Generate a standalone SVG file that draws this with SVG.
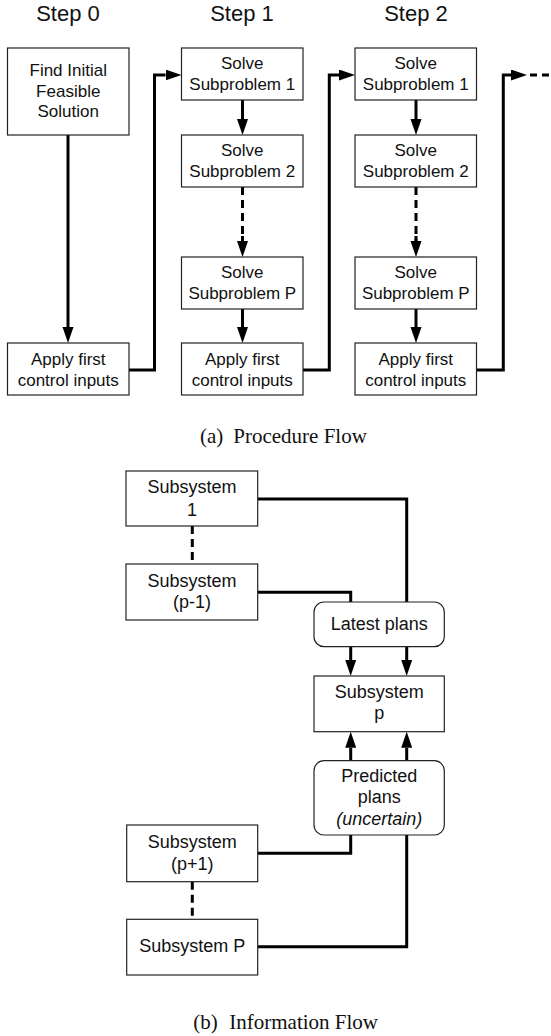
<svg xmlns="http://www.w3.org/2000/svg" width="551" height="1036" viewBox="0 0 551 1036">
<style>
.box{fill:#fff;stroke:#222;stroke-width:1.2}
.t{font-family:"Liberation Sans",Arial,sans-serif;font-size:17px;fill:#111;text-anchor:middle}
.tb{font-family:"Liberation Sans",Arial,sans-serif;font-size:18px;fill:#111;text-anchor:middle}
.step{font-family:"Liberation Sans",Arial,sans-serif;font-size:22px;fill:#111;text-anchor:middle}
.cap{font-family:"Liberation Serif","Times New Roman",serif;font-size:21px;fill:#111}
.ln{fill:none;stroke:#000;stroke-width:3}
.dash{fill:none;stroke:#000;stroke-width:3;stroke-dasharray:8,5}
</style>
<defs>
<marker id="ah" markerUnits="userSpaceOnUse" markerWidth="16" markerHeight="12" refX="0" refY="5.5" orient="auto">
<path d="M0,0 L16,5.5 L0,11 z" fill="#000"/>
</marker>
</defs>

<text class="step" x="68" y="21">Step 0</text>
<text class="step" x="242" y="21">Step 1</text>
<text class="step" x="416" y="21">Step 2</text>

<g id="connectors">
<!-- part a -->
<path class="ln" d="M68,135 V327" marker-end="url(#ah)"/>
<path class="ln" d="M129,370 H154.5 V75 H165.5" marker-end="url(#ah)"/>
<path class="ln" d="M242.5,100 V119" marker-end="url(#ah)"/>
<path class="dash" d="M242.5,187 V241"/>
<path class="ln" d="M242.5,236 V241" marker-end="url(#ah)"/>
<path class="ln" d="M242.5,309 V327" marker-end="url(#ah)"/>
<path class="ln" d="M303,370 H329.3 V75 H339" marker-end="url(#ah)"/>
<path class="ln" d="M416,100 V119" marker-end="url(#ah)"/>
<path class="dash" d="M416,187 V241"/>
<path class="ln" d="M416,236 V241" marker-end="url(#ah)"/>
<path class="ln" d="M416,309 V327" marker-end="url(#ah)"/>
<path class="ln" d="M476.5,370 H503.3 V75 H511" marker-end="url(#ah)"/>
<path class="ln" d="M530,75 H551" style="stroke-dasharray:7,5"/>
<!-- part b -->
<path class="dash" d="M192.3,526 V564"/>
<path class="ln" d="M257.7,499 H406.7 V602"/>
<path class="ln" d="M257.7,592.3 H350.7 V602"/>
<path class="ln" d="M350.7,647 V660" marker-end="url(#ah)"/>
<path class="ln" d="M406.7,647 V660" marker-end="url(#ah)"/>
<path class="ln" d="M350.7,760.7 V747.7" marker-end="url(#ah)"/>
<path class="ln" d="M406.7,760.7 V747.7" marker-end="url(#ah)"/>
<path class="ln" d="M257.7,853.3 H350.7 V835"/>
<path class="dash" d="M192.3,881.7 V919.3"/>
<path class="ln" d="M257.7,946.7 H406.7 V835"/>
</g>

<g id="n_find">
<rect class="box" x="7.5" y="48" width="121.5" height="87"/>
<text class="t" x="68.25" y="76">Find Initial</text>
<text class="t" x="68.25" y="96.7">Feasible</text>
<text class="t" x="68.25" y="117.3">Solution</text>
</g>
<g id="n_apply0">
<rect class="box" x="7.5" y="343" width="121.5" height="52"/>
<text class="t" x="68.25" y="365">Apply first</text>
<text class="t" x="68.25" y="385.5">control inputs</text>
</g>

<g id="n_s1_1">
<rect class="box" x="181.5" y="48" width="121.5" height="52"/>
<text class="t" x="242.25" y="69">Solve</text>
<text class="t" x="242.25" y="90">Subproblem 1</text>
</g>
<g id="n_s1_2">
<rect class="box" x="181.5" y="135" width="121.5" height="52"/>
<text class="t" x="242.25" y="156">Solve</text>
<text class="t" x="242.25" y="177">Subproblem 2</text>
</g>
<g id="n_s1_P">
<rect class="box" x="181.5" y="257" width="121.5" height="52"/>
<text class="t" x="242.25" y="278">Solve</text>
<text class="t" x="242.25" y="299">Subproblem P</text>
</g>
<g id="n_apply1">
<rect class="box" x="181.5" y="343" width="121.5" height="52"/>
<text class="t" x="242.25" y="365">Apply first</text>
<text class="t" x="242.25" y="385.5">control inputs</text>
</g>

<g id="n_s2_1">
<rect class="box" x="355" y="48" width="121.5" height="52"/>
<text class="t" x="415.75" y="69">Solve</text>
<text class="t" x="415.75" y="90">Subproblem 1</text>
</g>
<g id="n_s2_2">
<rect class="box" x="355" y="135" width="121.5" height="52"/>
<text class="t" x="415.75" y="156">Solve</text>
<text class="t" x="415.75" y="177">Subproblem 2</text>
</g>
<g id="n_s2_P">
<rect class="box" x="355" y="257" width="121.5" height="52"/>
<text class="t" x="415.75" y="278">Solve</text>
<text class="t" x="415.75" y="299">Subproblem P</text>
</g>
<g id="n_apply2">
<rect class="box" x="355" y="343" width="121.5" height="52"/>
<text class="t" x="415.75" y="365">Apply first</text>
<text class="t" x="415.75" y="385.5">control inputs</text>
</g>

<text class="cap" x="200" y="443">(a)</text>
<text class="cap" x="233.3" y="443">Procedure Flow</text>

<g id="n_sub1">
<rect class="box" x="126" y="471" width="131.7" height="55"/>
<text class="tb" x="191.9" y="493.3">Subsystem</text>
<text class="tb" x="191.9" y="516">1</text>
</g>
<g id="n_subpm1">
<rect class="box" x="126" y="564" width="131.7" height="56"/>
<text class="tb" x="191.9" y="587.3">Subsystem</text>
<text class="tb" x="191.9" y="608.3">(p-1)</text>
</g>
<g id="n_latest">
<rect class="box" x="314" y="602" width="130.3" height="44.7" rx="10"/>
<text class="tb" x="379.2" y="630">Latest plans</text>
</g>
<g id="n_subp">
<rect class="box" x="314" y="676" width="130.3" height="55.7"/>
<text class="tb" x="379.2" y="698.3">Subsystem</text>
<text class="tb" x="379.2" y="719.3">p</text>
</g>
<g id="n_predicted">
<rect class="box" x="314" y="760.7" width="130.3" height="74.3" rx="10"/>
<text class="tb" x="379.2" y="781.7">Predicted</text>
<text class="tb" x="379.2" y="803.3">plans</text>
<text class="tb" x="379.2" y="825" font-style="italic">(uncertain)</text>
</g>
<g id="n_subpp1">
<rect class="box" x="126.7" y="825" width="131" height="56.7"/>
<text class="tb" x="192.2" y="848.3">Subsystem</text>
<text class="tb" x="192.2" y="870">(p+1)</text>
</g>
<g id="n_subP">
<rect class="box" x="126.7" y="919.3" width="131" height="55.7"/>
<text class="tb" x="192.2" y="951.7">Subsystem P</text>
</g>

<text class="cap" x="193.3" y="1029">(b)</text>
<text class="cap" x="229.3" y="1029">Information Flow</text>
</svg>
